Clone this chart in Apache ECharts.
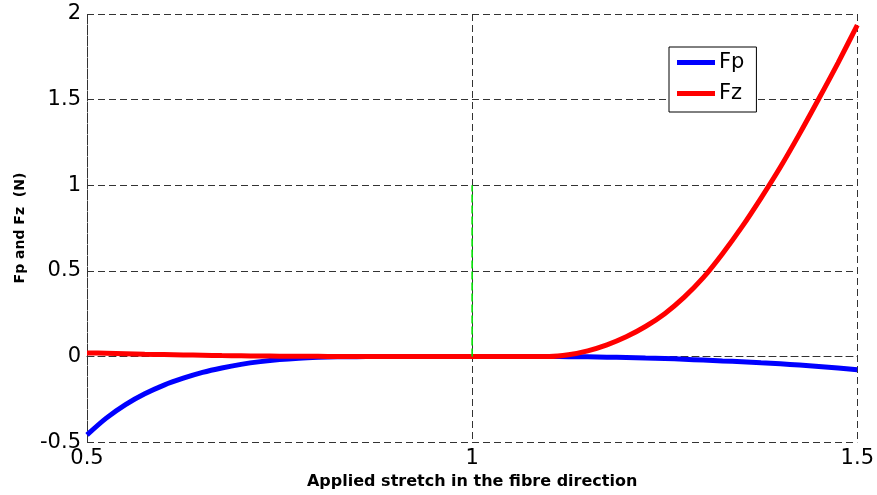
<!DOCTYPE html>
<html>
<head>
<meta charset="utf-8">
<script src="https://cdn.jsdelivr.net/npm/echarts@6/dist/echarts.min.js"></script>
<style>
  html, body { margin: 0; padding: 0; background: #fff; }
  #chart { width: 877px; height: 495px; }
</style>
</head>
<body>
<div id="chart"></div>
<script>
// applied stretch (x)
var stretch = [0.5, 0.525, 0.55, 0.575, 0.6, 0.625, 0.65, 0.675, 0.7, 0.725,
  0.75, 0.775, 0.8, 0.825, 0.85, 0.875, 0.9, 0.925, 0.95, 0.975,
  1.0, 1.025, 1.05, 1.075, 1.1, 1.125, 1.15, 1.175, 1.2, 1.225,
  1.25, 1.275, 1.3, 1.325, 1.35, 1.375, 1.4, 1.425, 1.45, 1.475, 1.5];

var fp = [-0.458, -0.36, -0.281, -0.218, -0.167, -0.127, -0.093, -0.067, -0.046, -0.03,
  -0.018, -0.01, -0.005, -0.002, -0.001, 0, 0, 0, 0, 0,
  0, 0, 0, 0, 0, -0.001, -0.002, -0.004, -0.006, -0.009,
  -0.012, -0.016, -0.021, -0.026, -0.031, -0.037, -0.043, -0.05, -0.058, -0.067, -0.077];

var fz = [0.021, 0.019, 0.016, 0.013, 0.011, 0.009, 0.007, 0.005, 0.004, 0.003,
  0.002, 0.001, 0.001, 0, 0, 0, 0, 0, 0, 0,
  0, 0, 0, 0, 0, 0.01, 0.033, 0.068, 0.115, 0.175,
  0.25, 0.345, 0.46, 0.6, 0.755, 0.925, 1.105, 1.3, 1.505, 1.715, 1.935];

// green marker at stretch = 1
var markerX = [1, 1];
var markerY = [0, 1];

var yTicks = [-0.5, 0, 0.5, 1, 1.5, 2];
var xTicks = [0.5, 1, 1.5];

function pairs(xs, ys) {
  return xs.map(function (x, i) { return [x, ys[i]]; });
}

var myChart = echarts.init(document.getElementById('chart'));

var gridLine = {
  show: true,
  lineStyle: { color: '#333', type: [7, 4], width: 1 }
};

var option = {
  animation: false,
  backgroundColor: '#fff',
  grid: { left: 87, right: 19, top: 14, bottom: 51 },
  legend: {
    data: ['Fp', 'Fz'],
    orient: 'vertical',
    left: 669,
    top: 47,
    padding: [5, 12, 8, 8],
    itemGap: 10,
    itemWidth: 38,
    itemHeight: 5,
    icon: 'rect',
    borderColor: '#000',
    borderWidth: 1,
    backgroundColor: '#fff',
    textStyle: { fontFamily: 'DejaVu Sans', fontSize: 21, color: '#000', lineHeight: 20, padding: [0, 0, 0, -1] }
  },
  xAxis: {
    type: 'value',
    min: xTicks[0],
    max: xTicks[xTicks.length - 1],
    interval: 0.5,
    name: 'Applied stretch in the fibre direction',
    nameLocation: 'middle',
    nameGap: 30,
    nameTextStyle: { fontFamily: 'DejaVu Sans', fontWeight: 'bold', fontSize: 16, color: '#000' },
    axisLine: { show: true, lineStyle: { color: '#333', type: [7, 4] } },
    axisTick: { show: false },
    axisLabel: { fontFamily: 'DejaVu Sans', fontSize: 21, color: '#000', margin: 6 },
    splitLine: gridLine
  },
  yAxis: {
    type: 'value',
    min: yTicks[0],
    max: yTicks[yTicks.length - 1],
    interval: 0.5,
    name: 'Fp and Fz  (N)',
    nameLocation: 'middle',
    nameGap: 60,
    nameTextStyle: { fontFamily: 'DejaVu Sans', fontWeight: 'bold', fontSize: 14, color: '#000' },
    axisLine: { show: true, lineStyle: { color: '#333', type: [7, 4] } },
    axisTick: { show: false },
    axisLabel: { fontFamily: 'DejaVu Sans', fontSize: 21, color: '#000', margin: 6 },
    splitLine: gridLine
  },
  series: [
    {
      name: 'Fp',
      type: 'line',
      data: pairs(stretch, fp),
      smooth: 0.3,
      showSymbol: false,
      lineStyle: { color: '#0000ff', width: 5 },
      itemStyle: { color: '#0000ff' },
      z: 3
    },
    {
      name: 'Fz',
      type: 'line',
      data: pairs(stretch, fz),
      smooth: 0.3,
      showSymbol: false,
      lineStyle: { color: '#ff0000', width: 5 },
      itemStyle: { color: '#ff0000' },
      z: 4
    },
    {
      name: 'marker',
      type: 'line',
      data: pairs(markerX, markerY),
      showSymbol: false,
      lineStyle: { color: '#00e000', width: 1.6, type: [8, 3] },
      z: 5
    }
  ]
};

myChart.setOption(option);
</script>
</body>
</html>
